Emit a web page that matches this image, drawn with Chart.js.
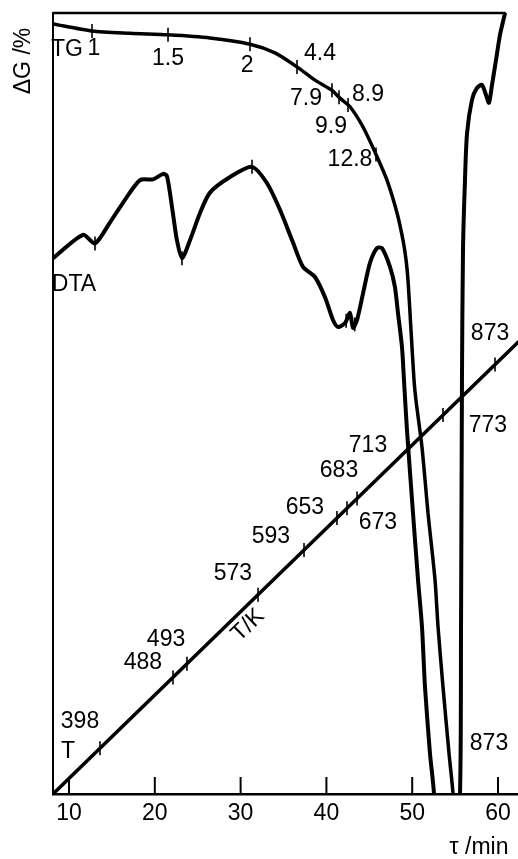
<!DOCTYPE html>
<html>
<head>
<meta charset="utf-8">
<script src="https://cdn.jsdelivr.net/npm/chart.js@4.4.0/dist/chart.umd.min.js"></script>
<style>
html,body{margin:0;padding:0;background:#fff;overflow:hidden}
#wrap{width:518px;height:859px;position:relative}
</style>
</head>
<body>
<div id="wrap"><canvas id="myChart"></canvas></div>
<script>
// time axis, tau / min
var tauMin = 8.135, tauMax = 62.33
var xTicks = [10, 20, 30, 40, 50, 60]

// TG curve (relative units, no scale printed)
var tgTau = [8.14, 12.68, 17.11, 21.54, 26.43, 31.09, 34.01, 36.57, 38.67, 40.65, 41.58, 42.75, 44.27, 45.90, 47.06, 48.23, 48.93, 49.28, 49.51, 49.86, 50.21, 50.44, 51.14, 51.84, 52.66, 53.01, 53.59, 54.29, 54.76, 55.11]
var tgVal = [98.6, 97.7, 97.4, 97.2, 96.8, 96.0, 94.9, 93.1, 91.4, 90.1, 89.1, 88.0, 85.4, 81.6, 78.6, 74.4, 70.9, 68.4, 65.8, 59.4, 53.0, 50.4, 44.4, 36.0, 27.4, 21.4, 13.7, 5.2, 0, -7.2]

// DTA curve
var dtaTau = [8.14, 11.63, 13.03, 14.78, 16.29, 18.27, 19.79, 20.97, 21.42, 22.00, 22.58, 23.17, 24.10, 25.27, 26.43, 28.77, 31.33, 33.08, 34.59, 36.11, 37.27, 38.67, 39.84, 40.77, 41.35, 42.17, 42.75, 43.10, 43.57, 44.27, 45.08, 45.90, 46.48, 47.41, 47.99, 48.34, 48.81, 49.04, 49.39, 50.09, 50.68, 51.14, 51.49, 52.07, 52.54, 54.17, 55.57, 55.69, 55.80, 55.92, 56.15, 56.39, 56.97, 57.55, 58.13, 58.60, 58.95, 59.30, 59.77, 60.23, 60.81, 61.05]
var dtaVal = [68.6, 71.6, 70.5, 73.2, 75.7, 78.6, 78.7, 79.4, 79.1, 75.2, 70.9, 68.6, 70.9, 74.4, 77.0, 79.0, 80.3, 78.2, 74.8, 70.6, 67.5, 66.2, 63.6, 60.7, 59.8, 60.3, 61.6, 59.7, 60.7, 64.1, 68.0, 69.9, 69.9, 67.5, 64.9, 61.6, 57.2, 53.0, 46.6, 36.0, 27.4, 21.4, 13.7, 5.2, 0, -39, 0, 21.4, 53.0, 69.7, 78.6, 84.6, 88.9, 90.4, 90.8, 89.5, 88.5, 90.8, 94.0, 97.2, 100, 101.7]

// T line
var tTau = [8.135, 62.33]
var tVal = [0, 57.85]

// small marks on the curves (tau)
var tgMarks = [12.68, 21.54, 31.09, 36.57, 40.65, 41.47, 42.52, 45.78]
var dtaMarks = [13.03, 23.17, 31.33, 42.3, 43.3]
var tMarks = [13.61, 22.12, 23.75, 32.03, 37.39, 41.23, 42.40, 43.57, 49.63, 53.59, 59.65]

// texts on the chart: text, tau, value
var tgLabels = [["TG", 9.77, 95.3], ["1", 12.91, 95.4], ["1.5", 21.54, 94.2], ["2", 30.75, 93.3], ["4.4", 39.25, 94.8], ["7.9", 37.62, 89.0], ["8.9", 44.85, 89.6], ["9.9", 40.54, 85.5], ["12.8", 42.75, 81.2]]
var dtaLabels = [["DTA", 10.58, 65.2]]
var tLabels = [["398", 11.28, 9.2], ["T", 9.88, 5.4], ["488", 18.62, 16.8], ["493", 21.31, 19.8], ["573", 29.11, 28.2], ["593", 33.54, 33.0], ["653", 37.50, 36.6], ["673", 46.01, 34.8], ["683", 41.47, 41.4], ["713", 44.85, 44.6], ["773", 58.83, 47.1], ["873", 59.07, 59.0], ["873", 58.95, 6.4]]
var tAxisLabel = ["T/K", 30.86, 21.6]

var FONT = '23px "Liberation Sans", Arial, sans-serif'

function pts(xs, ys){
  return xs.map(function(t, i){ return {x: t, y: ys[i]} })
}
// value on a drawn curve at a given tau, used only to seat the small marks
function onCurve(xs, ys, t){
  for (var i = 1; i < xs.length; i++){
    if (t <= xs[i]){
      var f = (t - xs[i-1]) / (xs[i] - xs[i-1])
      return ys[i-1] + f * (ys[i] - ys[i-1])
    }
  }
  return ys[ys.length-1]
}
function marks(list, xs, ys){
  return list.map(function(t){ return {x: t, y: onCurve(xs, ys, t)} })
}

var frame = {
  id: 'frame',
  afterDraw: function(chart){
    var c = chart.ctx, a = chart.chartArea
    var xs = chart.scales.x, ys = chart.scales.y
    c.save()
    c.strokeStyle = '#000'
    c.lineCap = 'butt'
    // left axis
    c.lineWidth = 2
    c.beginPath(); c.moveTo(a.left, a.top - 1); c.lineTo(a.left, a.bottom); c.stroke()
    // top line
    c.lineWidth = 2.5
    c.beginPath(); c.moveTo(a.left, a.top); c.lineTo(xs.getPixelForValue(60.9), a.top); c.stroke()
    // inward ticks and labels on time axis
    c.fillStyle = '#000'
    c.font = FONT
    c.textAlign = 'center'
    c.textBaseline = 'middle'
    c.lineWidth = 2
    xTicks.forEach(function(v){
      var x = xs.getPixelForValue(v)
      c.beginPath(); c.moveTo(x, a.bottom); c.lineTo(x, a.bottom - 17); c.stroke()
      c.fillText(String(v), x, a.bottom + 20)
    })
    // texts
    tgLabels.concat(dtaLabels, tLabels).forEach(function(l){
      c.fillText(l[0], xs.getPixelForValue(l[1]), ys.getPixelForValue(l[2]))
    })
    // T/K along the line
    var x0 = xs.getPixelForValue(tTau[0]), y0 = ys.getPixelForValue(tVal[0])
    var x1 = xs.getPixelForValue(tTau[1]), y1 = ys.getPixelForValue(tVal[1])
    c.save()
    c.translate(xs.getPixelForValue(tAxisLabel[1]), ys.getPixelForValue(tAxisLabel[2]))
    c.rotate(Math.atan2(y1 - y0, x1 - x0))
    c.fillText(tAxisLabel[0], 0, 0)
    c.restore()
    // axis titles
    c.save()
    c.translate(24, 61)
    c.rotate(-Math.PI / 2)
    c.fillText('ΔG /%', 0, 0)
    c.restore()
    c.fillText('τ /min', 479, 848)
    c.restore()
  }
}

var lineStyle = {borderColor: '#000', pointRadius: 0, fill: false, tension: 0.25}
var markStyle = {type: 'scatter', pointStyle: 'line', rotation: 90, pointRadius: 7, borderColor: '#000', borderWidth: 1.6, showLine: false}

const ctx = document.getElementById('myChart')

new Chart(ctx, {
  type: 'line',
  data: {
    datasets: [
      Object.assign({label: 'TG', data: pts(tgTau, tgVal), borderWidth: 3.5}, lineStyle),
      Object.assign({label: 'DTA', data: pts(dtaTau, dtaVal), borderWidth: 4}, lineStyle),
      Object.assign({label: 'T', data: pts(tTau, tVal), borderWidth: 3.5}, lineStyle),
      Object.assign({label: 'TG marks', data: marks(tgMarks, tgTau, tgVal)}, markStyle),
      Object.assign({label: 'DTA marks', data: marks(dtaMarks, dtaTau, dtaVal)}, markStyle),
      Object.assign({label: 'T marks', data: marks(tMarks, tTau, tVal)}, markStyle)
    ]
  },
  options: {
    responsive: true,
    maintainAspectRatio: false,
    animation: false,
    events: [],
    layout: {autoPadding: false, padding: {left: 53, top: 13, right: 0, bottom: 65}},
    elements: {line: {capBezierPoints: false, borderCapStyle: 'round', borderJoinStyle: 'round'}},
    plugins: {legend: {display: false}, tooltip: {enabled: false}},
    scales: {
      x: {
        type: 'linear',
        min: tauMin,
        max: tauMax,
        afterBuildTicks: function(s){ s.ticks = xTicks.map(function(v){ return {value: v} }) },
        grid: {display: false, drawTicks: false},
        border: {display: true, color: '#000', width: 2.5},
        ticks: {display: false}
      },
      y: {display: false, min: 0, max: 100}
    }
  },
  plugins: [frame]
})
</script>
</body>
</html>
